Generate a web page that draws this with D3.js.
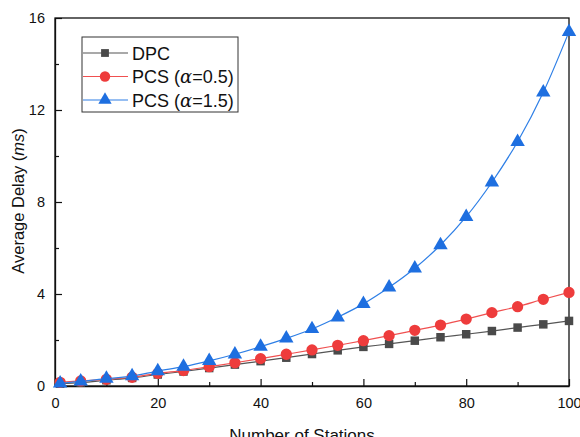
<!DOCTYPE html>
<html lang="en">
  <head>
    <meta charset="utf-8">
    <title>Average Delay</title>
    <script src="https://d3js.org/d3.v7.min.js"></script>
    <style>
      body { margin: 0; background: #fff; }
      text { font-family: "Liberation Sans", Arial, sans-serif; }
    </style>
  </head>
  <body>
    <svg width="580" height="437"></svg>
    <script type="text/javascript">
      // data
      var stations = [1, 5, 10, 15, 20, 25, 30, 35, 40, 45, 50, 55, 60, 65, 70, 75, 80, 85, 90, 95, 100];
      var dpc = [0.10, 0.15, 0.25, 0.35, 0.50, 0.63, 0.78, 0.93, 1.08, 1.23, 1.39, 1.55, 1.70, 1.83, 1.97, 2.12, 2.25, 2.39, 2.54, 2.68, 2.83];
      var pcs05 = [0.16, 0.22, 0.29, 0.38, 0.55, 0.67, 0.84, 1.01, 1.19, 1.38, 1.57, 1.77, 1.97, 2.19, 2.42, 2.65, 2.91, 3.19, 3.45, 3.77, 4.07];
      var pcs15 = [0.12, 0.20, 0.32, 0.43, 0.65, 0.84, 1.09, 1.38, 1.71, 2.07, 2.48, 2.99, 3.57, 4.29, 5.12, 6.13, 7.36, 8.86, 10.62, 12.77, 15.40];
      var xTicks = [0, 20, 40, 60, 80, 100];
      var xMinor = [10, 30, 50, 70, 90];
      var yTicks = [0, 4, 8, 12, 16];
      var yMinor = [2, 6, 10, 14];

      var svg = d3.select("svg");
      var padL = 55, padR = 569, padT = 18, padB = 386;

      var x = d3.scaleLinear().domain([0, 100]).range([padL, padR]);
      var y = d3.scaleLinear().domain([0, 16]).range([padB, padT]);

      var series = [
        { name: "DPC", values: dpc, line: "#555", fill: "#4a4a4a", shape: d3.symbolSquare, size: 72 },
        { name: "PCS (α=0.5)", values: pcs05, line: "#f05050", fill: "#ee3c3c", shape: d3.symbolCircle, size: 100 },
        { name: "PCS (α=1.5)", values: pcs15, line: "#2e7fe6", fill: "#1e6fe0", shape: d3.symbolTriangle, size: 90 }
      ];

      // axes with inward ticks
      svg.append("g").attr("transform", "translate(0," + padB + ")")
        .call(d3.axisBottom(x).tickValues(xTicks).tickSizeInner(-7).tickSizeOuter(0).tickPadding(12));
      svg.append("g").attr("transform", "translate(0," + padB + ")")
        .call(d3.axisBottom(x).tickValues(xMinor).tickSizeInner(-4).tickSizeOuter(0).tickFormat(""))
        .select(".domain").remove();
      svg.append("g").attr("transform", "translate(" + padL + ",0)")
        .call(d3.axisLeft(y).tickValues(yTicks).tickSizeInner(-7).tickSizeOuter(0).tickPadding(10));
      svg.append("g").attr("transform", "translate(" + padL + ",0)")
        .call(d3.axisLeft(y).tickValues(yMinor).tickSizeInner(-4).tickSizeOuter(0).tickFormat(""))
        .select(".domain").remove();

      svg.selectAll(".tick text").attr("font-size", 14.5).attr("fill", "#111");
      svg.selectAll(".tick line").attr("stroke", "#111").attr("stroke-width", 1.2);
      svg.selectAll(".domain").attr("stroke", "#111").attr("stroke-width", 1.3);

      // frame top / right
      svg.append("rect").attr("x", padL).attr("y", padT)
        .attr("width", padR - padL).attr("height", padB - padT)
        .attr("fill", "none").attr("stroke", "#111").attr("stroke-width", 1.3);

      var line = d3.line()
        .x(function(d, i) { return x(stations[i]); })
        .y(function(d) { return y(d); })
        .curve(d3.curveMonotoneX);

      series.forEach(function(s) {
        svg.append("path").datum(s.values)
          .attr("d", line).attr("fill", "none")
          .attr("stroke", s.line).attr("stroke-width", 1.2);
        svg.append("g").selectAll("path")
          .data(s.values).enter().append("path")
          .attr("transform", function(d, i) { return "translate(" + x(stations[i]) + "," + y(d) + ")"; })
          .attr("d", d3.symbol().type(s.shape).size(s.size))
          .attr("fill", s.fill);
      });

      // axis titles
      svg.append("text").attr("x", 302).attr("y", 441)
        .attr("text-anchor", "middle").attr("font-size", 17).attr("fill", "#111")
        .text("Number of Stations");
      var yt = svg.append("text").attr("transform", "translate(24,201) rotate(-90)")
        .attr("text-anchor", "middle").attr("font-size", 16.5).attr("fill", "#111");
      yt.append("tspan").text("Average Delay (");
      yt.append("tspan").attr("font-style", "italic").text("ms");
      yt.append("tspan").text(")");

      // legend
      var lg = svg.append("g").attr("transform", "translate(82,37)");
      lg.append("rect").attr("width", 156).attr("height", 75)
        .attr("fill", "#fff").attr("stroke", "#333").attr("stroke-width", 1);
      series.forEach(function(s, i) {
        var row = lg.append("g").attr("transform", "translate(0," + (16 + i * 23.5) + ")");
        row.append("line").attr("x1", 1).attr("x2", 46).attr("stroke", s.line).attr("stroke-width", 1.2);
        row.append("path").attr("transform", "translate(23,0)")
          .attr("d", d3.symbol().type(s.shape).size(s.size * 0.85)).attr("fill", s.fill);
        var t = row.append("text").attr("x", 50).attr("y", 6.5)
          .attr("font-size", 18).attr("fill", "#111");
        if (i === 0) {
          t.text(s.name);
        } else {
          t.append("tspan").text("PCS (");
          t.append("tspan").attr("font-style", "italic").attr("font-family", "DejaVu Serif, serif").text("α");
          t.append("tspan").text(i === 1 ? "=0.5)" : "=1.5)");
        }
      });
    </script>
  </body>
</html>
